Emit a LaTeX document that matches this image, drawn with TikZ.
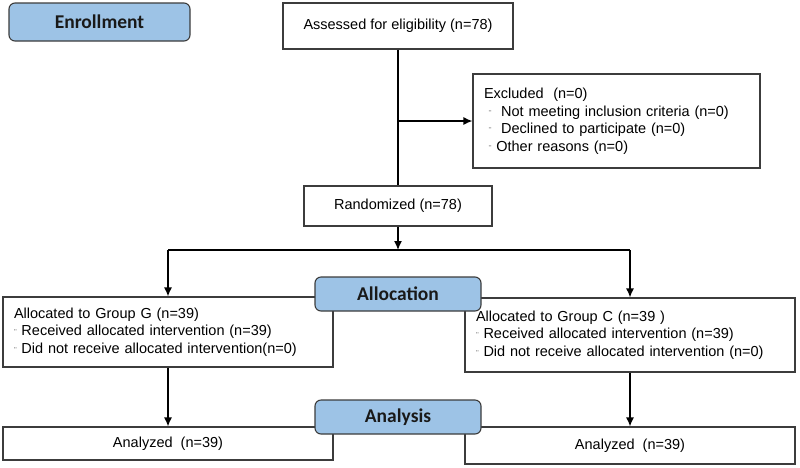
\documentclass[tikz,border=0pt]{standalone}
\usepackage{fontspec}
\setmainfont{Liberation Sans}
\newfontfamily\labelfont{Carlito}
\usetikzlibrary{arrows.meta,positioning}

\definecolor{stagefill}{HTML}{9DC3E6}
\definecolor{boxline}{HTML}{3C3C3C}
\newcommand{\bul}{{\fontsize{8}{8}\selectfont ¨}}

\tikzset{
  box/.style={draw=boxline, line width=1.1pt, fill=white, inner sep=0pt,
    font=\fontsize{14.5}{17.5}\selectfont},
  listbox/.style={box, align=left},
  stage/.style={draw=boxline, line width=1.1pt, fill=stagefill, rounded corners=6pt,
    font=\labelfont\bfseries\fontsize{19.5}{20}\selectfont, text=black!90},
  link/.style={draw=black, line width=1.4pt},
  arrow/.style={link, -{Latex[length=9pt,width=8pt]}}
}

\begin{document}
\begin{tikzpicture}[x=1pt, y=-1pt, align=center]
    \useasboundingbox (0,0) rectangle (800,467);

    % enrollment
    \node(enroll) [stage, minimum width=181pt, minimum height=38pt] at (99.5,22)   {Enrollment};
    \node(assess) [box, minimum width=230pt, minimum height=46pt]   at (398,26)    {Assessed for eligibility (n=78)};
    \node(excl)   [listbox, minimum width=287pt, minimum height=94pt, text width=265pt] at (616.5,121)
      {Excluded\ \ (n=0)\\
       \ \bul\ \ Not meeting inclusion criteria (n=0)\\
       \ \bul\ \ Declined to participate (n=0)\\
       \ \bul\ Other reasons (n=0)};
    \node(rand)   [box, minimum width=188pt, minimum height=40pt]   at (398,206)   {Randomized (n=78)};

    % allocation
    \node(grpG)   [listbox, minimum width=330pt, minimum height=70pt, text width=308pt] at (168,332)
      {Allocated to Group G (n=39)\\
       \bul\ Received allocated intervention (n=39)\\
       \bul\ Did not receive allocated intervention(n=0)};
    \node(grpC)   [listbox, minimum width=330pt, minimum height=74pt, text width=308pt] at (630,335)
      {Allocated to Group C (n=39 )\\
       \bul\ Received allocated intervention (n=39)\\
       \bul\ Did not receive allocated intervention (n=0)};
    \node(alloc)  [stage, minimum width=166pt, minimum height=34pt] at (398,294)   {Allocation};

    % analysis
    \node(anaG)   [box, minimum width=330pt, minimum height=33pt]   at (168,443.5) {Analyzed\ \ (n=39)};
    \node(anaC)   [box, minimum width=330pt, minimum height=37pt]   at (630,445.5) {Analyzed\ \ (n=39)};
    \node(analysis) [stage, minimum width=166pt, minimum height=34pt] at (398,417) {Analysis};

    \coordinate (branch) at (398,121);
    \coordinate (split)  at (398,250);
    \coordinate (splitG) at (168,250);
    \coordinate (splitC) at (630,250);

    % enrollment
    \draw [link]  (assess) to (rand);
    \draw [arrow] (branch) to (excl);

    % allocation
    \draw [arrow] (rand) to (split);
    \draw [link]  (splitG) to (splitC);
    \draw [arrow] (splitG) to (grpG);
    \draw [arrow] (splitC) to (grpC);

    % analysis
    \draw [arrow] (grpG) to (anaG);
    \draw [arrow] (grpC) to (anaC);
  \end{tikzpicture}
\end{document}
